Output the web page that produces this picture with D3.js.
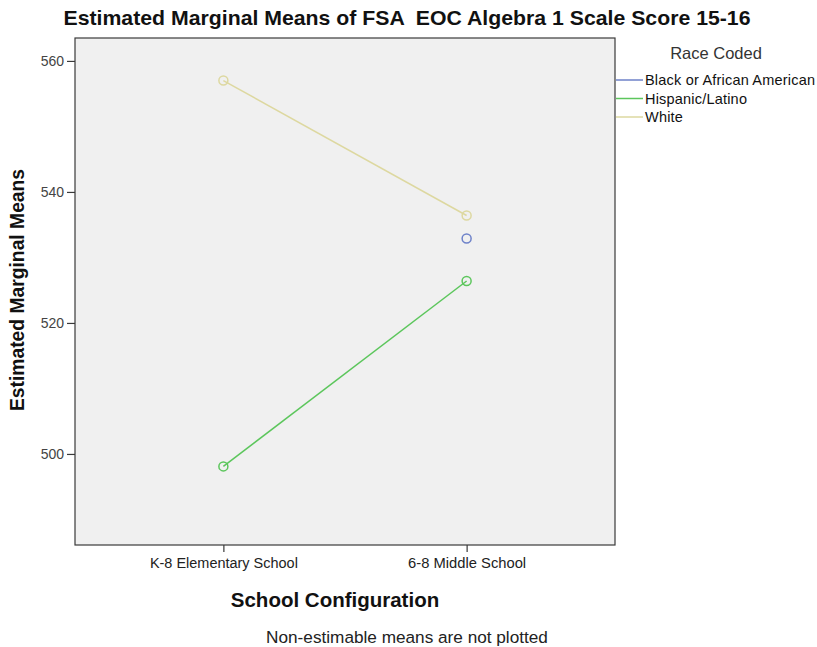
<!DOCTYPE html>
<html><head><meta charset="utf-8">
<script src="https://cdn.jsdelivr.net/npm/d3@7"></script>
<style>body{margin:0;background:#fff;} svg{display:block;} text{white-space:pre;}</style>
</head><body>
<script>
const categories = ["K-8 Elementary School", "6-8 Middle School"];
const seriesNames = ["Black or African American", "Hispanic/Latino", "White"];
const blackValues = [null, 532.9];
const hispanicValues = [498.1, 526.4];
const whiteValues = [557.0, 536.4];
const yTicks = [500, 520, 540, 560];
const colors = ["#6e82c9", "#5cc65c", "#ddd8a0"];

const W = 817, H = 647;
const plot = {left: 75, top: 38, right: 615, bottom: 545};
const svg = d3.select("body").append("svg").attr("width", W).attr("height", H);

const x = d3.scalePoint().domain(categories).range([plot.left, plot.right]).padding(0.61);
const y = d3.scaleLinear().domain([486.1, 563.5]).range([plot.bottom, plot.top]);

svg.append("rect").attr("x", plot.left).attr("y", plot.top)
  .attr("width", plot.right - plot.left).attr("height", plot.bottom - plot.top)
  .attr("fill", "#f0f0f0").attr("stroke", "#3a3a3a").attr("stroke-width", 1.2);

const font = "'Liberation Sans', Arial, sans-serif";

const yAxis = svg.append("g").attr("transform", `translate(${plot.left},0)`)
  .call(d3.axisLeft(y).tickValues(yTicks).tickSize(8).tickPadding(3).tickFormat(d3.format("d")));
yAxis.select(".domain").remove();
yAxis.selectAll("line").attr("stroke", "#3a3a3a").attr("stroke-width", 1.2);
yAxis.selectAll("text").attr("font-family", font).attr("font-size", 14).attr("fill", "#444");

const xAxis = svg.append("g").attr("transform", `translate(0,${plot.bottom})`)
  .call(d3.axisBottom(x).tickSize(7).tickPadding(6));
xAxis.select(".domain").remove();
xAxis.selectAll("line").attr("stroke", "#3a3a3a").attr("stroke-width", 1.2);
xAxis.selectAll("text").attr("font-family", font).attr("font-size", 14).attr("fill", "#222")
  .attr("textLength", function(){ return this.textContent.length > 18 ? 148 : 118; })
  .attr("lengthAdjust", "spacingAndGlyphs");

const series = [blackValues, hispanicValues, whiteValues];
const line = d3.line().defined(d => d.v != null).x(d => x(d.c)).y(d => y(d.v));
series.forEach((vals, i) => {
  const pts = vals.map((v, j) => ({c: categories[j], v}));
  svg.append("path").datum(pts).attr("d", line).attr("fill", "none")
    .attr("stroke", colors[i]).attr("stroke-width", 1.5);
  svg.selectAll(null).data(pts.filter(d => d.v != null)).enter().append("circle")
    .attr("cx", d => x(d.c)).attr("cy", d => y(d.v)).attr("r", 4.5)
    .attr("fill", "none").attr("stroke", colors[i]).attr("stroke-width", 1.5);
});

// legend
svg.append("text").attr("x", 716).attr("y", 59).attr("text-anchor", "middle")
  .attr("font-family", font).attr("font-size", 16.5).attr("fill", "#333").text("Race Coded");
seriesNames.forEach((n, i) => {
  const yy = 80 + i * 18.5;
  svg.append("line").attr("x1", 616).attr("x2", 643).attr("y1", yy).attr("y2", yy)
    .attr("stroke", colors[i]).attr("stroke-width", 1.5);
  svg.append("text").attr("x", 645).attr("y", yy + 5).attr("font-family", font)
    .attr("font-size", 14.5).attr("fill", "#111").attr("letter-spacing", 0.2).text(n);
});

// titles
svg.append("text").attr("x", 407).attr("y", 25).attr("text-anchor", "middle")
  .attr("font-family", font)
  .attr("font-weight", "bold").attr("font-size", 21).attr("fill", "#111")
  .attr("textLength", 687).attr("lengthAdjust", "spacingAndGlyphs")
  .text("Estimated Marginal Means of FSA  EOC Algebra 1 Scale Score 15-16");
svg.append("text").attr("transform", "translate(24,290) rotate(-90)").attr("text-anchor", "middle")
  .attr("font-family", font).attr("font-weight", "bold").attr("font-size", 19.3).attr("fill", "#111")
  .text("Estimated Marginal Means");
svg.append("text").attr("x", 335).attr("y", 607).attr("text-anchor", "middle")
  .attr("font-family", font).attr("font-weight", "bold").attr("font-size", 20.5).attr("fill", "#111")
  .text("School Configuration");
svg.append("text").attr("x", 407).attr("y", 643).attr("text-anchor", "middle")
  .attr("font-family", font).attr("font-size", 17.2).attr("fill", "#222")
  .text("Non-estimable means are not plotted");
</script>
</body></html>
